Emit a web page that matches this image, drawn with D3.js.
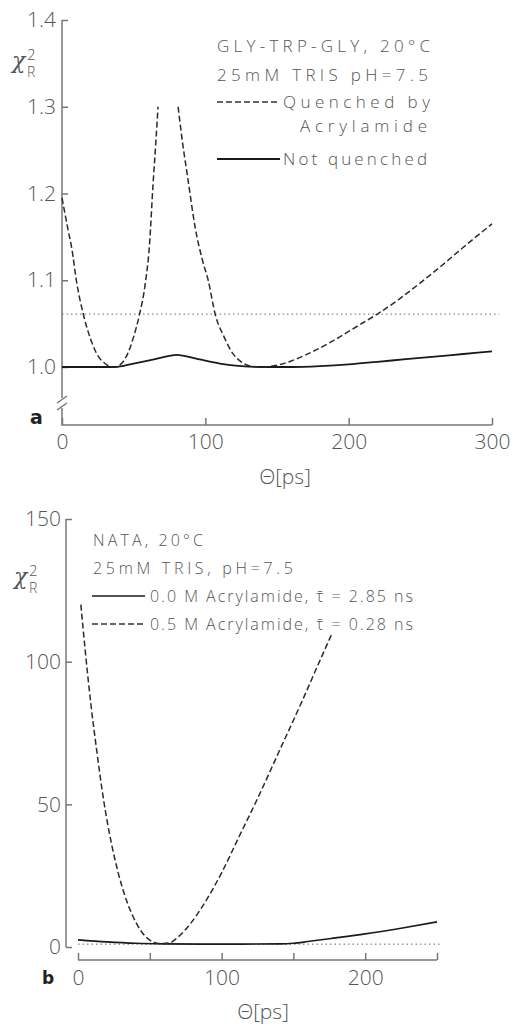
<!DOCTYPE html>
<html>
<head>
<meta charset="utf-8">
<script src="https://cdn.jsdelivr.net/npm/d3@7"></script>
<style>
  body { margin: 0; background: #fff; }
  svg { display: block; }
  text { font-family: "Open Sans", "DejaVu Sans", sans-serif; font-weight: 300; fill: #555; }
  .tick line { stroke: #777; stroke-width: 1.5; }
  .tick text { font-size: 21px; }
</style>
</head>
<body>
<div id="chart"></div>
<script>
const W = 524, H = 1028;

// panel a: GLY-TRP-GLY
const aTicksY = [1.0, 1.1, 1.2, 1.3, 1.4];
const aTicksX = [0, 100, 200, 300];
const aQuenchLTheta = [0, 4, 7, 10, 15, 20, 24, 30, 36, 40, 46, 50, 54, 58, 61, 63.5, 65.5, 67];
const aQuenchLChi   = [1.195, 1.16, 1.135, 1.10, 1.06, 1.032, 1.016, 1.004, 1.0, 1.002, 1.016, 1.035, 1.06, 1.095, 1.14, 1.21, 1.26, 1.30];
const aQuenchRTheta = [81, 84, 88, 93, 98, 102, 107, 113, 119, 125, 132, 140, 150, 160, 170, 180, 190, 200, 210, 220, 235, 250, 265, 280, 300];
const aQuenchRChi   = [1.30, 1.26, 1.215, 1.16, 1.123, 1.10, 1.06, 1.035, 1.016, 1.006, 1.001, 1.0, 1.002, 1.007, 1.014, 1.022, 1.031, 1.041, 1.051, 1.061, 1.078, 1.097, 1.117, 1.138, 1.165];
const aFreeTheta = [0, 20, 37, 50, 65, 80, 95, 110, 125, 140, 160, 180, 200, 220, 240, 260, 280, 300];
const aFreeChi   = [1.0, 1.0, 1.0, 1.004, 1.009, 1.014, 1.009, 1.004, 1.001, 1.0, 1.0, 1.001, 1.003, 1.006, 1.009, 1.012, 1.015, 1.018];
const aLimit = 1.061;

// panel b: NATA
const bTicksY = [0, 50, 100, 150];
const bTicksX = [0, 50, 100, 150, 200, 250];
const bLabelsX = [0, 100, 200];
const bQuenchTheta = [2, 5, 9, 13, 18, 23, 28, 34, 41, 48, 57, 64, 69, 78, 87, 100, 112, 125, 140, 155, 169, 177];
const bQuenchChi   = [120, 104, 85, 69, 51, 37, 26, 16, 8, 3.2, 1.2, 1.5, 3.2, 8, 14.5, 26, 38.5, 52, 68.5, 85, 101, 110];
const bFreeTheta = [0, 20, 40, 60, 100, 140, 150, 160, 175, 200, 225, 250];
const bFreeChi   = [2.5, 1.8, 1.3, 1.1, 1.0, 1.1, 1.3, 1.9, 2.9, 4.6, 6.6, 8.8];
const bLimit = 1;

const svg = d3.select('#chart').append('svg')
  .attr('width', W)
  .attr('height', H);

const zip = (xs, ys) => xs.map((v, i) => [v, ys[i]]);

function chiLabel(x, y) {
  const g = svg.append('g').attr('transform', `translate(${x},${y})`);
  g.append('text').attr('x', 0).attr('y', 0)
    .style('font-family', '"DejaVu Serif", serif').style('font-style', 'italic')
    .style('font-size', '22px').text('χ');
  g.append('text').attr('x', 15).attr('y', -8).style('font-size', '15px').text('2');
  g.append('text').attr('x', 15).attr('y', 9).style('font-size', '14px').text('R');
}

// ---------- panel a ----------
const xa = d3.scaleLinear().domain([0, 300]).range([62, 492]);
const ya = d3.scaleLinear().domain([1.0, 1.4]).range([367, 20]);
const axA = 425;

svg.append('g')
  .attr('transform', 'translate(62,0)')
  .call(d3.axisLeft(ya).tickValues(aTicksY).tickFormat(d3.format('.1f')).tickSizeInner(-6).tickSizeOuter(0).tickPadding(6))
  .call(g => g.select('.domain').remove());

svg.append('g')
  .attr('transform', `translate(0,${axA})`)
  .call(d3.axisBottom(xa).tickValues(aTicksX).tickFormat(d3.format('d')).tickSizeInner(-7).tickSizeOuter(0).tickPadding(9))
  .call(g => g.select('.domain').remove());

const axisStyle = s => s.attr('stroke', '#777').attr('stroke-width', 1.5).attr('fill', 'none');

svg.append('path').attr('d', `M62,${ya(1.4)}V398M62,408V${axA}H${xa(300)}`).call(axisStyle);
svg.append('path').attr('d', 'M57,403L67,396M57,410L67,403').call(axisStyle);

svg.append('line')
  .attr('x1', xa(0)).attr('x2', xa(305))
  .attr('y1', ya(aLimit)).attr('y2', ya(aLimit))
  .attr('stroke', '#666').attr('stroke-width', 1).attr('stroke-dasharray', '1.5,3');

const lineA = d3.line().x(d => xa(d[0])).y(d => ya(d[1])).curve(d3.curveMonotoneX);

svg.append('path').datum(zip(aFreeTheta, aFreeChi))
  .attr('d', lineA).attr('fill', 'none').attr('stroke', '#1a1a1a').attr('stroke-width', 1.8);
[zip(aQuenchLTheta, aQuenchLChi), zip(aQuenchRTheta, aQuenchRChi)].forEach(seg => {
  svg.append('path').datum(seg)
    .attr('d', lineA).attr('fill', 'none').attr('stroke', '#2a2a2a')
    .attr('stroke-width', 1.5).attr('stroke-dasharray', '6,3');
});

chiLabel(12, 68);

svg.append('text').attr('x', 30).attr('y', 424)
  .style('font-family', '"DejaVu Sans", sans-serif').style('font-weight', 'bold')
  .style('font-size', '19px').style('fill', '#222').text('a');

svg.append('text').attr('x', 285).attr('y', 484).attr('text-anchor', 'middle')
  .style('font-size', '21px').text('Θ[ps]');

// legend a
const legA = svg.append('g');
const legAText = (txt, x, y, len, anchor) => legA.append('text')
  .attr('x', x).attr('y', y).attr('text-anchor', anchor || 'start')
  .attr('textLength', len).attr('lengthAdjust', 'spacing')
  .style('font-size', '17px').text(txt);
legAText('GLY-TRP-GLY, 20°C', 217, 52, 213);
legAText('25mM TRIS  pH=7.5', 217, 81, 211);
legAText('Quenched by', 283, 108, 147);
legAText('Acrylamide', 300, 132, 127);
legAText('Not quenched', 283, 165, 144);
legA.append('line').attr('x1', 217).attr('x2', 280).attr('y1', 102).attr('y2', 102)
  .attr('stroke', '#333').attr('stroke-width', 1.3).attr('stroke-dasharray', '6,3');
legA.append('line').attr('x1', 217).attr('x2', 280).attr('y1', 159).attr('y2', 159)
  .attr('stroke', '#1a1a1a').attr('stroke-width', 1.8);

// ---------- panel b ----------
const xb = d3.scaleLinear().domain([0, 250]).range([78, 437]);
const yb = d3.scaleLinear().domain([0, 150]).range([947, 519]);
const axB = 960;

svg.append('g')
  .attr('transform', 'translate(66,0)')
  .call(d3.axisLeft(yb).tickValues(bTicksY).tickFormat(d3.format('d')).tickSizeInner(-6).tickSizeOuter(0).tickPadding(5))
  .call(g => g.select('.domain').remove());

svg.append('g')
  .attr('transform', `translate(0,${axB})`)
  .call(d3.axisBottom(xb).tickValues(bTicksX)
    .tickFormat(d => bLabelsX.includes(d) ? d3.format('d')(d) : '')
    .tickSizeInner(-7).tickSizeOuter(0).tickPadding(10))
  .call(g => g.select('.domain').remove());

svg.append('path').attr('d', `M66,${yb(150)}V${yb(0)}`).call(axisStyle);
svg.append('path').attr('d', `M${xb(0)},${axB}H${xb(250)}`).call(axisStyle);

svg.append('line')
  .attr('x1', xb(0)).attr('x2', xb(252))
  .attr('y1', yb(bLimit)).attr('y2', yb(bLimit))
  .attr('stroke', '#666').attr('stroke-width', 1).attr('stroke-dasharray', '1.5,3');

const lineB = d3.line().x(d => xb(d[0])).y(d => yb(d[1])).curve(d3.curveMonotoneX);

svg.append('path').datum(zip(bFreeTheta, bFreeChi))
  .attr('d', lineB).attr('fill', 'none').attr('stroke', '#1a1a1a').attr('stroke-width', 1.6);
svg.append('path').datum(zip(bQuenchTheta, bQuenchChi))
  .attr('d', lineB).attr('fill', 'none').attr('stroke', '#2a2a2a')
  .attr('stroke-width', 1.5).attr('stroke-dasharray', '6,3');

chiLabel(14, 584);

svg.append('text').attr('x', 42).attr('y', 984)
  .style('font-family', '"DejaVu Sans", sans-serif').style('font-weight', 'bold')
  .style('font-size', '17px').style('fill', '#222').text('b');

svg.append('text').attr('x', 263).attr('y', 1019).attr('text-anchor', 'middle')
  .style('font-size', '21px').text('Θ[ps]');

// legend b
const legB = svg.append('g');
const legBText = (txt, x, y, len) => legB.append('text')
  .attr('x', x).attr('y', y)
  .attr('textLength', len).attr('lengthAdjust', 'spacing')
  .style('font-size', '16px').text(txt);
legBText('NATA, 20°C', 93, 546, 110);
legBText('25mM TRIS, pH=7.5', 93, 574, 200);
legBText('0.0 M Acrylamide, τ̄ = 2.85 ns', 150, 602, 263);
legBText('0.5 M Acrylamide, τ̄ = 0.28 ns', 150, 630, 263);
legB.append('line').attr('x1', 92).attr('x2', 145).attr('y1', 596).attr('y2', 596)
  .attr('stroke', '#1a1a1a').attr('stroke-width', 1.4);
legB.append('line').attr('x1', 92).attr('x2', 145).attr('y1', 624).attr('y2', 624)
  .attr('stroke', '#333').attr('stroke-width', 1.4).attr('stroke-dasharray', '6,3');
</script>
</body>
</html>
